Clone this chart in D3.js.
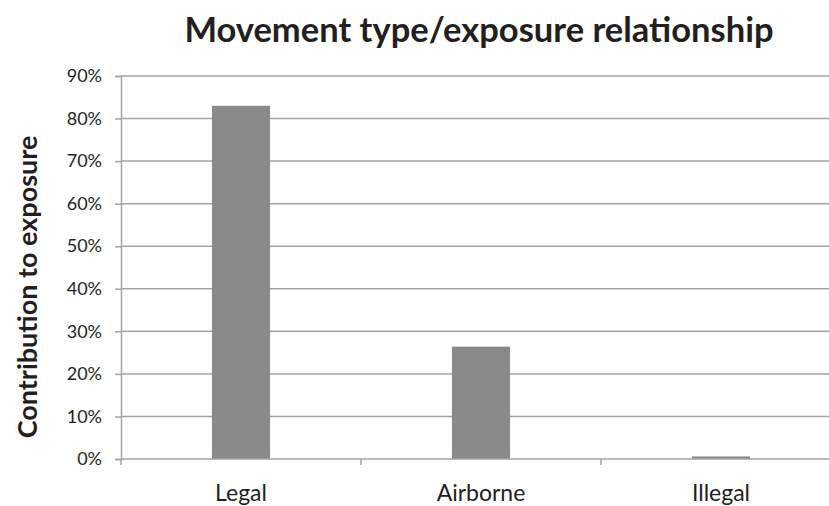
<!DOCTYPE html>
<html>
<head>
<meta charset="utf-8">
<script src="https://cdn.jsdelivr.net/npm/d3@7"></script>
<style>
  body { margin: 0; background: #fff; }
  text { font-family: Lato, "Open Sans", sans-serif; fill: #231f20; }
</style>
</head>
<body>
<div id="chart"></div>
<script>
// chart data
let categories = ["Legal", "Airborne", "Illegal"];
let values = [0.83, 0.264, 0.006];
let yTicks = [0, 0.1, 0.2, 0.3, 0.4, 0.5, 0.6, 0.7, 0.8, 0.9];

const width = 829, height = 506;
const margin = {top: 76, left: 121, bottom: 47};
const plotW = 720;   // plot runs past the right edge, as in the picture
const plotH = height - margin.top - margin.bottom;

let svg = d3.select("#chart")
    .append("svg")
    .attr("width", width)
    .attr("height", height);

let g = svg.append("g")
    .attr("transform", `translate(${margin.left}, ${margin.top})`);

// scales
let x = d3.scaleBand()
    .domain(categories)
    .range([0, plotW])
    .paddingInner(0.758)
    .paddingOuter(0.379);

let y = d3.scaleLinear()
    .domain([0, 0.9])
    .range([plotH, 0]);

// gridlines
g.append("g")
    .selectAll("line")
    .data(yTicks.slice(1))
    .enter()
    .append("line")
    .attr("x1", 0)
    .attr("x2", plotW)
    .attr("y1", d => y(d))
    .attr("y2", d => y(d))
    .attr("stroke", "#a3a3a3")
    .attr("stroke-width", 1.5);

// bars
g.selectAll("rect")
    .data(values)
    .enter()
    .append("rect")
    .attr("x", (d, i) => x(categories[i]))
    .attr("y", d => y(d))
    .attr("width", x.bandwidth())
    .attr("height", d => plotH - y(d))
    .attr("fill", "#8a8a8c");

// y axis
let yAxis = g.append("g")
    .call(d3.axisLeft(y).tickValues(yTicks).tickFormat(d3.format(".0%")).tickSize(6).tickPadding(13));
yAxis.select(".domain").attr("stroke", "#a3a3a3").attr("stroke-width", 1.5);
yAxis.selectAll(".tick line").attr("stroke", "#a3a3a3").attr("stroke-width", 1.5);
yAxis.selectAll("text").style("font-size", "18px").attr("fill", "#231f20");

// x axis, ticks sit between categories
let band = plotW / categories.length;
let xAxis = g.append("g")
    .attr("transform", `translate(0, ${plotH})`);
xAxis.append("line")
    .attr("x1", 0).attr("x2", plotW)
    .attr("stroke", "#a3a3a3").attr("stroke-width", 1.5);
xAxis.selectAll(".sep")
    .data(d3.range(categories.length + 1))
    .enter()
    .append("line")
    .attr("x1", d => d * band).attr("x2", d => d * band)
    .attr("y1", 0).attr("y2", 6)
    .attr("stroke", "#a3a3a3").attr("stroke-width", 1.5);
xAxis.selectAll("text")
    .data(categories)
    .enter()
    .append("text")
    .attr("x", d => x(d) + x.bandwidth() / 2)
    .attr("y", 42)
    .style("text-anchor", "middle")
    .style("font-size", "23px")
    .text(d => d);

// title
svg.append("text")
    .attr("x", 479)
    .attr("y", 42)
    .style("text-anchor", "middle")
    .style("font-size", "34.5px")
    .style("font-weight", "bold")
    .text("Movement type/exposure relationship");

// y axis label
svg.append("text")
    .attr("transform", "translate(37, 287) rotate(-90)")
    .style("text-anchor", "middle")
    .style("font-size", "27px")
    .style("font-weight", "bold")
    .text("Contribution to exposure");
</script>
</body>
</html>
